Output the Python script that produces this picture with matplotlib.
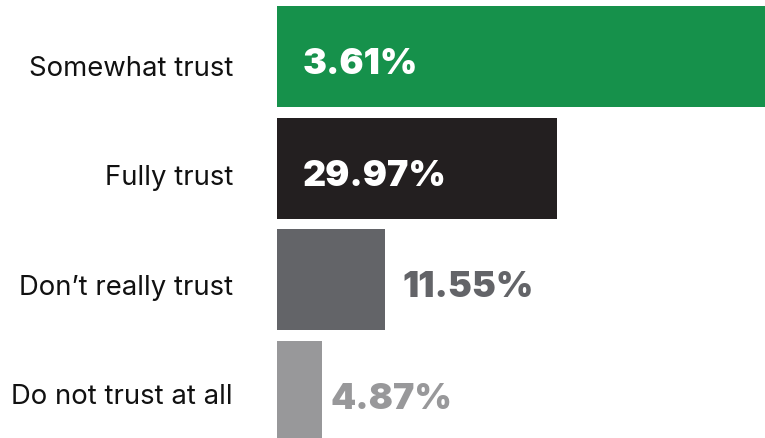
import matplotlib
matplotlib.use("Agg")
import matplotlib.pyplot as plt

categories = ["Somewhat trust", "Fully trust", "Don\u2019t really trust", "Do not trust at all"]
values = [53.61, 29.97, 11.55, 4.87]
value_labels = ["3.61%", "29.97%", "11.55%", "4.87%"]
colors = ["#16914B", "#231F20", "#636468", "#98989A"]
label_inside = [True, True, False, False]

W, H = 765, 439
fig = plt.figure(figsize=(W / 100, H / 100), dpi=100)
left_px = 277
ax = fig.add_axes([left_px / W, 0, 1 - left_px / W, 1])

px_per_unit = 9.33
ax.set_xlim(0, (W - left_px) / px_per_unit)
spacing = 111.5
top = -57.5 / spacing
bottom = 3 + (H - 392) / spacing
ax.set_ylim(bottom, top)

y = list(range(len(categories)))
ax.barh(y, values, height=101 / spacing, color=colors)

# value labels (baseline ~17 px below bar centre)
for i, (v, lab, c, inside) in enumerate(zip(values, value_labels, colors, label_inside)):
    base_px = 57.5 + i * spacing + 17
    yy = top + base_px / spacing
    if inside:
        x, col = 26 / px_per_unit, "white"
    else:
        off = 18 if i == 2 else 8
        x, col = v + off / px_per_unit, c
    ax.text(x, yy, lab, color=col, fontsize=25.8, fontweight="black",
            family="Inter", va="baseline", ha="left")

# category labels
for i, cat in enumerate(categories):
    base_px = 76 + i * 109.4
    fig.text(233 / W, 1 - base_px / H, cat, fontsize=19.8, family="Inter",
             color="#111111", ha="right", va="baseline")

ax.set_yticks([])
ax.set_xticks([])
for s in ax.spines.values():
    s.set_visible(False)

fig.savefig("out.png", dpi=100)
